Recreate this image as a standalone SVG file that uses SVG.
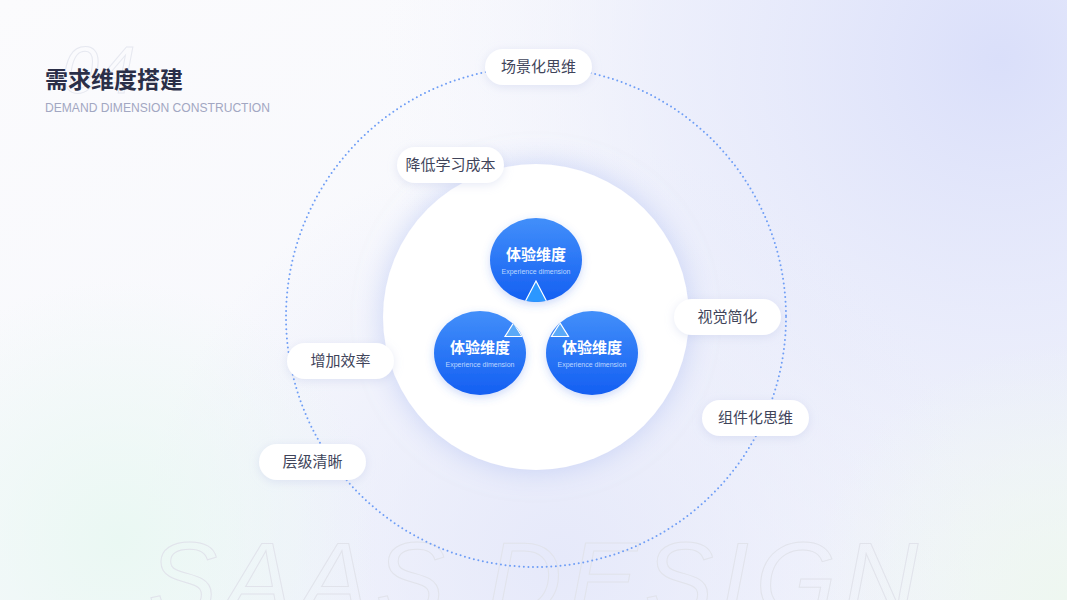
<svg xmlns="http://www.w3.org/2000/svg" width="1067" height="600" viewBox="0 0 1067 600">
<defs>
<linearGradient id="bgBase" x1="0" y1="0" x2="1" y2="1">
<stop offset="0" stop-color="#fbfbfd"/>
<stop offset="1" stop-color="#f3f5fc"/>
</linearGradient>
<radialGradient id="bgBlue" cx="1000" cy="60" r="620" gradientUnits="userSpaceOnUse">
<stop offset="0" stop-color="#dadffa"/>
<stop offset="0.55" stop-color="#e8ebfb" stop-opacity="0.7"/>
<stop offset="1" stop-color="#f3f4fc" stop-opacity="0"/>
</radialGradient>
<radialGradient id="bgBlue2" cx="560" cy="560" r="420" gradientUnits="userSpaceOnUse">
<stop offset="0" stop-color="#e6e9fa"/>
<stop offset="1" stop-color="#e6e9fa" stop-opacity="0"/>
</radialGradient>
<radialGradient id="bgGreen" cx="120" cy="540" r="260" gradientUnits="userSpaceOnUse">
<stop offset="0" stop-color="#eaf8f3"/>
<stop offset="1" stop-color="#eaf8f3" stop-opacity="0"/>
</radialGradient>
<radialGradient id="bgGreen2" cx="1067" cy="600" r="260" gradientUnits="userSpaceOnUse">
<stop offset="0" stop-color="#eef7f0"/>
<stop offset="1" stop-color="#eef7f0" stop-opacity="0"/>
</radialGradient>
<linearGradient id="ballGrad" x1="0" y1="0" x2="0" y2="1">
<stop offset="0" stop-color="#428ffa"/>
<stop offset="1" stop-color="#145ff2"/>
</linearGradient>
<filter id="glow" x="-40%" y="-40%" width="180%" height="180%">
<feDropShadow dx="0" dy="0" stdDeviation="14" flood-color="#a9b9f0" flood-opacity="0.55"/>
</filter>
<filter id="pillShadow" x="-30%" y="-60%" width="160%" height="220%">
<feDropShadow dx="0" dy="2" stdDeviation="5" flood-color="#b6c0e4" flood-opacity="0.35"/>
</filter>
<filter id="ballShadow" x="-30%" y="-30%" width="160%" height="160%">
<feDropShadow dx="0" dy="3" stdDeviation="4" flood-color="#3a6fe8" flood-opacity="0.25"/>
</filter>
<clipPath id="clipTop"><ellipse cx="536" cy="260" rx="46" ry="42"/></clipPath>
<clipPath id="clipLeft"><ellipse cx="480" cy="353" rx="46" ry="42"/></clipPath>
<clipPath id="clipRight"><ellipse cx="592" cy="353" rx="46" ry="42"/></clipPath>
</defs>
<style>
.pill{fill:#ffffff;filter:url(#pillShadow);}
.pillText{font-family:"Noto Sans CJK SC","Noto Sans",sans-serif;font-size:15px;fill:#40445a;text-anchor:middle;}
.ball{fill:url(#ballGrad);filter:url(#ballShadow);}
.ballTitle{font-family:"Noto Sans CJK SC","Noto Sans",sans-serif;font-size:15px;font-weight:bold;fill:#ffffff;text-anchor:middle;}
.ballSub{font-family:"Liberation Sans",Arial,sans-serif;font-size:7px;fill:#bcd6ff;text-anchor:middle;}
.tri{stroke:#ffffff;stroke-width:1.2;stroke-linejoin:miter;}
</style>

<!-- background -->
<rect x="0" y="0" width="1067" height="600" fill="url(#bgBase)"/>
<rect x="0" y="0" width="1067" height="600" fill="url(#bgBlue)"/>
<rect x="0" y="0" width="1067" height="600" fill="url(#bgBlue2)"/>
<rect x="0" y="0" width="1067" height="600" fill="url(#bgGreen)"/>
<rect x="0" y="0" width="1067" height="600" fill="url(#bgGreen2)"/>

<!-- watermark texts -->
<text x="62" y="93" font-family="Liberation Sans,Arial,sans-serif" font-size="66" font-style="italic" fill="none" stroke="#e6e8f0" stroke-width="1">04</text>
<text x="148" y="615" textLength="770" lengthAdjust="spacing" font-family="Liberation Sans,Arial,sans-serif" font-size="104" font-style="italic" fill="none" stroke="#e1e3eb" stroke-width="1">SAAS DESIGN</text>

<!-- title -->
<g id="title">
<text x="45" y="88" font-family="Noto Sans CJK SC,Noto Sans,sans-serif" font-size="23" font-weight="bold" fill="#2b2f48">需求维度搭建</text>
<text x="45" y="112" textLength="225" lengthAdjust="spacingAndGlyphs" font-family="Liberation Sans,Arial,sans-serif" font-size="12.5" fill="#a2a7c2">DEMAND DIMENSION CONSTRUCTION</text>
</g>

<!-- connectors: dotted orbit -->
<g id="connectors">
<circle cx="536" cy="317" r="250" fill="none" stroke="#6f9ef6" stroke-width="2" stroke-dasharray="0 4.6" stroke-linecap="round"/>
</g>

<!-- central white disc -->
<g id="disc">
<circle cx="536" cy="317" r="153" fill="#ffffff" filter="url(#glow)"/>
</g>

<!-- balls -->
<g id="ball-top">
<ellipse class="ball" cx="536" cy="260" rx="46" ry="42"/>
<polygon class="tri" clip-path="url(#clipTop)" points="536,281 524.5,303 547.5,303" fill="#2b97ff"/>
<text class="ballTitle" x="536" y="260">体验维度</text>
<text class="ballSub" x="536" y="273.5">Experience dimension</text>
</g>
<g id="ball-left">
<ellipse class="ball" cx="480" cy="353" rx="46" ry="42"/>
<polygon class="tri" clip-path="url(#clipLeft)" points="513.5,323 505,336.5 522,336.5" fill="#5aa9f8"/>
<text class="ballTitle" x="480" y="353">体验维度</text>
<text class="ballSub" x="480" y="366.5">Experience dimension</text>
</g>
<g id="ball-right">
<ellipse class="ball" cx="592" cy="353" rx="46" ry="42"/>
<polygon class="tri" clip-path="url(#clipRight)" points="560,323 551.5,336.5 568.5,336.5" fill="#5aa9f8"/>
<text class="ballTitle" x="592" y="353">体验维度</text>
<text class="ballSub" x="592" y="366.5">Experience dimension</text>
</g>

<!-- pills -->
<g id="pill-scene">
<rect class="pill" x="485" y="49" width="107" height="36" rx="18"/>
<text class="pillText" x="538.5" y="72">场景化思维</text>
</g>
<g id="pill-learn">
<rect class="pill" x="397" y="147" width="107" height="36" rx="18"/>
<text class="pillText" x="450.5" y="170">降低学习成本</text>
</g>
<g id="pill-visual">
<rect class="pill" x="674" y="299" width="107" height="36" rx="18"/>
<text class="pillText" x="727.5" y="322">视觉简化</text>
</g>
<g id="pill-efficiency">
<rect class="pill" x="287" y="343" width="107" height="36" rx="18"/>
<text class="pillText" x="340.5" y="366">增加效率</text>
</g>
<g id="pill-component">
<rect class="pill" x="702" y="400" width="107" height="36" rx="18"/>
<text class="pillText" x="755.5" y="423">组件化思维</text>
</g>
<g id="pill-hierarchy">
<rect class="pill" x="259" y="444" width="107" height="36" rx="18"/>
<text class="pillText" x="312.5" y="467">层级清晰</text>
</g>
</svg>
